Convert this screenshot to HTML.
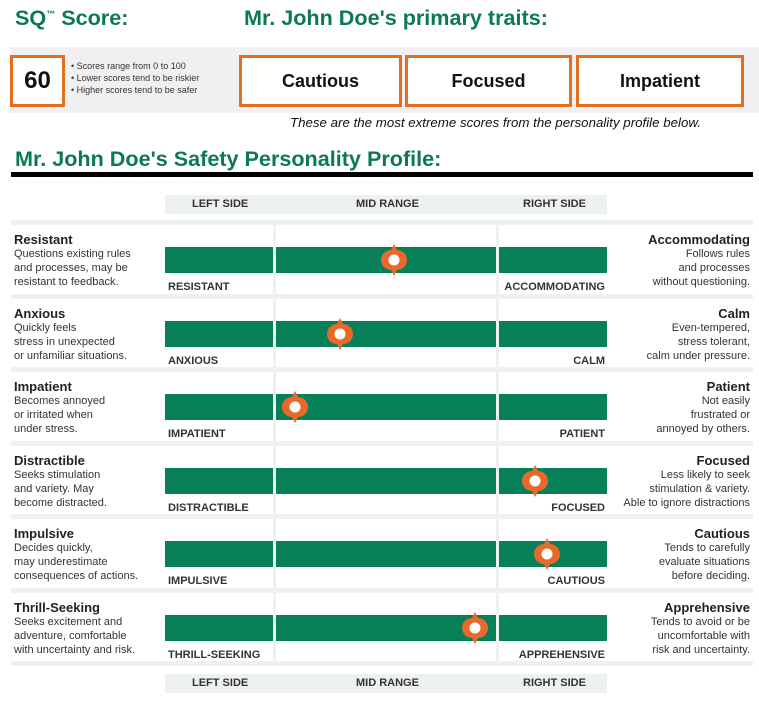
<!DOCTYPE html><html><head><style>
body{margin:0;width:759px;height:701px;background:#fff;position:relative;overflow:hidden;font-family:"Liberation Sans",Arial,sans-serif}
div{position:absolute}
.g{color:#0b7a4f;font-weight:bold}
.box{border:3px solid #e36f1e;background:#fff;box-sizing:border-box;font-weight:bold;font-size:18px;text-align:center;color:#111}
.sep{left:11px;width:742px;height:5px;background:#eef2ef}
.vs{width:3px;background:#eef2ef}
.bar{background:#077f59;height:26px}
.t{font-size:13px;font-weight:bold;color:#222}
.d{font-size:11px;color:#333;line-height:14px}
.lb{font-size:11px;font-weight:bold;color:#333}
.hd{left:165px;width:442px;height:19px;background:#eef2ef;font-size:11px;font-weight:bold;color:#333}
.hd span{position:absolute;top:3px}
</style></head><body>
<div class="g" style="left:15px;top:5px;font-size:21.6px">SQ<sup style="font-size:9px">™</sup> Score:</div>
<div class="g" style="left:244px;top:5px;font-size:21.6px">Mr. John Doe's primary traits:</div>
<div style="left:10px;top:47px;width:749px;height:66px;background:#f0f0f2"></div>
<div class="box" style="left:10px;top:55px;width:55px;height:52px;font-size:24px;line-height:46px">60</div>
<div style="left:71px;top:60px;font-size:9px;line-height:12px;color:#333">• Scores range from 0 to 100<br>• Lower scores tend to be riskier<br>• Higher scores tend to be safer</div>
<div class="box" style="left:239px;top:55px;width:163px;height:52px;line-height:46px">Cautious</div>
<div class="box" style="left:405px;top:55px;width:167px;height:52px;line-height:46px">Focused</div>
<div class="box" style="left:576px;top:55px;width:168px;height:52px;line-height:46px">Impatient</div>
<div style="left:290px;top:115px;font-size:13.3px;font-style:italic;color:#111">These are the most extreme scores from the personality profile below.</div>
<div class="g" style="left:15px;top:146px;font-size:21.6px">Mr. John Doe's Safety Personality Profile:</div>
<div style="left:11px;top:172px;width:742px;height:5px;background:#000"></div>
<div class="hd" style="top:195px"><span style="left:27px">LEFT SIDE</span><span style="left:191px">MID RANGE</span><span style="left:358px">RIGHT SIDE</span></div>
<div class="hd" style="top:674px"><span style="left:27px">LEFT SIDE</span><span style="left:191px">MID RANGE</span><span style="left:358px">RIGHT SIDE</span></div>
<div class="vs" style="left:273px;top:225px;height:436px"></div>
<div class="vs" style="left:496px;top:225px;height:436px"></div>
<div class="sep" style="top:220px"></div><div class="sep" style="top:294px"></div><div class="sep" style="top:367px"></div><div class="sep" style="top:441px"></div><div class="sep" style="top:514px"></div><div class="sep" style="top:588px"></div><div class="sep" style="top:661px"></div>

<div class="bar" style="left:165px;top:247px;width:108px"></div><div class="bar" style="left:276px;top:247px;width:220px"></div><div class="bar" style="left:499px;top:247px;width:108px"></div>
<div class="bar" style="left:165px;top:321px;width:108px"></div><div class="bar" style="left:276px;top:321px;width:220px"></div><div class="bar" style="left:499px;top:321px;width:108px"></div>
<div class="bar" style="left:165px;top:394px;width:108px"></div><div class="bar" style="left:276px;top:394px;width:220px"></div><div class="bar" style="left:499px;top:394px;width:108px"></div>
<div class="bar" style="left:165px;top:468px;width:108px"></div><div class="bar" style="left:276px;top:468px;width:220px"></div><div class="bar" style="left:499px;top:468px;width:108px"></div>
<div class="bar" style="left:165px;top:541px;width:108px"></div><div class="bar" style="left:276px;top:541px;width:220px"></div><div class="bar" style="left:499px;top:541px;width:108px"></div>
<div class="bar" style="left:165px;top:615px;width:108px"></div><div class="bar" style="left:276px;top:615px;width:220px"></div><div class="bar" style="left:499px;top:615px;width:108px"></div>

<div class="t" style="left:14px;top:232px">Resistant</div><div class="d" style="left:14px;top:247px">Questions existing rules<br>and processes, may be<br>resistant to feedback.</div>
<div class="t" style="left:14px;top:306px">Anxious</div><div class="d" style="left:14px;top:321px">Quickly feels<br>stress in unexpected<br>or unfamiliar situations.</div>
<div class="t" style="left:14px;top:379px">Impatient</div><div class="d" style="left:14px;top:394px">Becomes annoyed<br>or irritated when<br>under stress.</div>
<div class="t" style="left:14px;top:453px">Distractible</div><div class="d" style="left:14px;top:468px">Seeks stimulation<br>and variety. May<br>become distracted.</div>
<div class="t" style="left:14px;top:526px">Impulsive</div><div class="d" style="left:14px;top:541px">Decides quickly,<br>may underestimate<br>consequences of actions.</div>
<div class="t" style="left:14px;top:600px">Thrill-Seeking</div><div class="d" style="left:14px;top:615px">Seeks excitement and<br>adventure, comfortable<br>with uncertainty and risk.</div>

<div class="t" style="right:9px;top:232px;text-align:right">Accommodating</div><div class="d" style="right:9px;top:247px;text-align:right">Follows rules<br>and processes<br>without questioning.</div>
<div class="t" style="right:9px;top:306px;text-align:right">Calm</div><div class="d" style="right:9px;top:321px;text-align:right">Even-tempered,<br>stress tolerant,<br>calm under pressure.</div>
<div class="t" style="right:9px;top:379px;text-align:right">Patient</div><div class="d" style="right:9px;top:394px;text-align:right">Not easily<br>frustrated or<br>annoyed by others.</div>
<div class="t" style="right:9px;top:453px;text-align:right">Focused</div><div class="d" style="right:9px;top:468px;text-align:right">Less likely to seek<br>stimulation &amp; variety.<br>Able to ignore distractions</div>
<div class="t" style="right:9px;top:526px;text-align:right">Cautious</div><div class="d" style="right:9px;top:541px;text-align:right">Tends to carefully<br>evaluate situations<br>before deciding.</div>
<div class="t" style="right:9px;top:600px;text-align:right">Apprehensive</div><div class="d" style="right:9px;top:615px;text-align:right">Tends to avoid or be<br>uncomfortable with<br>risk and uncertainty.</div>

<div class="lb" style="left:168px;top:281px">RESISTANT</div><div class="lb" style="right:154px;top:281px">ACCOMMODATING</div>
<div class="lb" style="left:168px;top:355px">ANXIOUS</div><div class="lb" style="right:154px;top:355px">CALM</div>
<div class="lb" style="left:168px;top:428px">IMPATIENT</div><div class="lb" style="right:154px;top:428px">PATIENT</div>
<div class="lb" style="left:168px;top:502px">DISTRACTIBLE</div><div class="lb" style="right:154px;top:502px">FOCUSED</div>
<div class="lb" style="left:168px;top:575px">IMPULSIVE</div><div class="lb" style="right:154px;top:575px">CAUTIOUS</div>
<div class="lb" style="left:168px;top:649px">THRILL-SEEKING</div><div class="lb" style="right:154px;top:649px">APPREHENSIVE</div>

<svg style="position:absolute;left:0;top:0" width="759" height="701">
<defs><g id="m"><path d="M0,-16 L3,-10 A10,10 0 0 1 3,10 L0,16 L-3,10 A10,10 0 0 1 -3,-10 Z" fill="#e8692a"/><circle r="5.5" fill="#fff"/></g></defs>
<use href="#m" x="394" y="260"/>
<use href="#m" x="340" y="334"/>
<use href="#m" x="295" y="407"/>
<use href="#m" x="535" y="481"/>
<use href="#m" x="547" y="554"/>
<use href="#m" x="475" y="628"/>
</svg>
</body></html>
